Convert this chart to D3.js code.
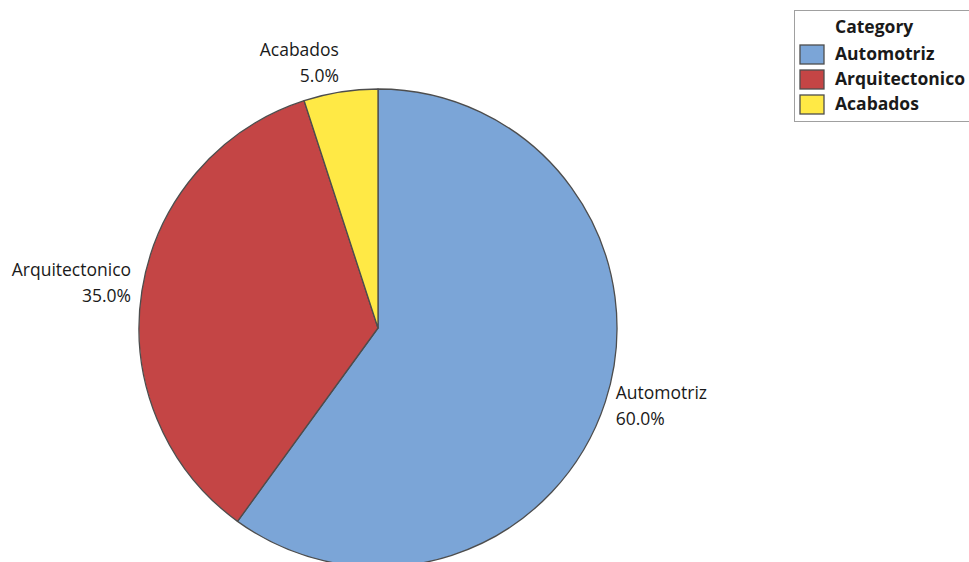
<!DOCTYPE html>
<html>
<head>
<meta charset="utf-8">
<script src="https://cdn.jsdelivr.net/npm/d3@7"></script>
<style>
  html, body { margin: 0; padding: 0; background: #fff; }
  svg { display: block; }
</style>
</head>
<body>
<svg id="chart" width="969" height="562"></svg>
<script>
// Category shares (percent)
const categories = ["Automotriz", "Arquitectonico", "Acabados"];
const values = [60.0, 35.0, 5.0];
const colors = ["#7BA5D7", "#C44545", "#FFE945"];
const legendTitle = "Category";

const svg = d3.select("#chart");
const cx = 378, cy = 328, radius = 239;
const labelFont = "'Open Sans', sans-serif";

const data = categories.map((c, i) => ({ category: c, value: values[i], color: colors[i] }));

const pie = d3.pie().value(d => d.value).sort(null);
const arcs = pie(data);
const arc = d3.arc().innerRadius(0).outerRadius(radius);

const g = svg.append("g").attr("transform", `translate(${cx},${cy})`);

g.selectAll("path.slice")
  .data(arcs)
  .join("path")
  .attr("class", "slice")
  .attr("d", arc)
  .attr("fill", d => d.data.color)
  .attr("stroke", "#4d4d4d")
  .attr("stroke-width", 1.3)
  .attr("stroke-linejoin", "round");

// Slice labels placed just outside the rim at each slice's mid-angle
const labelR = 250;
const lineGap = 26;
arcs.forEach(a => {
  const mid = (a.startAngle + a.endAngle) / 2;
  const sx = Math.sin(mid), sy = -Math.cos(mid);
  const ax = labelR * sx, ay = labelR * sy;
  const anchor = sx >= 0 ? "start" : "end";
  // midpoint between the two baselines, nudged away from the pie vertically
  const midBase = ay + 14 * sy + 2;
  const t = g.append("text")
    .attr("text-anchor", anchor)
    .attr("font-family", labelFont)
    .attr("font-size", 17.5)
    .attr("fill", "#1a1a1a");
  t.append("tspan").attr("x", ax).attr("y", midBase - lineGap / 2).text(a.data.category);
  t.append("tspan").attr("x", ax).attr("y", midBase + lineGap / 2)
    .text(d3.format(".1f")(a.data.value) + "%");
});

// Legend
const legend = svg.append("g").attr("transform", "translate(794,10)");
legend.append("rect")
  .attr("x", 0.5).attr("y", 0.5)
  .attr("width", 190).attr("height", 111)
  .attr("fill", "#fff")
  .attr("stroke", "#a0a0a0")
  .attr("stroke-width", 1);
legend.append("text")
  .attr("x", 41).attr("y", 23)
  .attr("font-family", labelFont)
  .attr("font-weight", "bold")
  .attr("font-size", 17.5)
  .attr("fill", "#1a1a1a")
  .text(legendTitle);
const items = legend.selectAll("g.item")
  .data(data)
  .join("g")
  .attr("class", "item")
  .attr("transform", (d, i) => `translate(6,${35 + i * 25})`);
items.append("rect")
  .attr("width", 24).attr("height", 19)
  .attr("fill", d => d.color)
  .attr("stroke", "#4d4d4d")
  .attr("stroke-width", 1.3);
items.append("text")
  .attr("x", 35).attr("y", 15)
  .attr("font-family", labelFont)
  .attr("font-weight", "bold")
  .attr("font-size", 17.5)
  .attr("fill", "#1a1a1a")
  .text(d => d.category);
</script>
</body>
</html>
